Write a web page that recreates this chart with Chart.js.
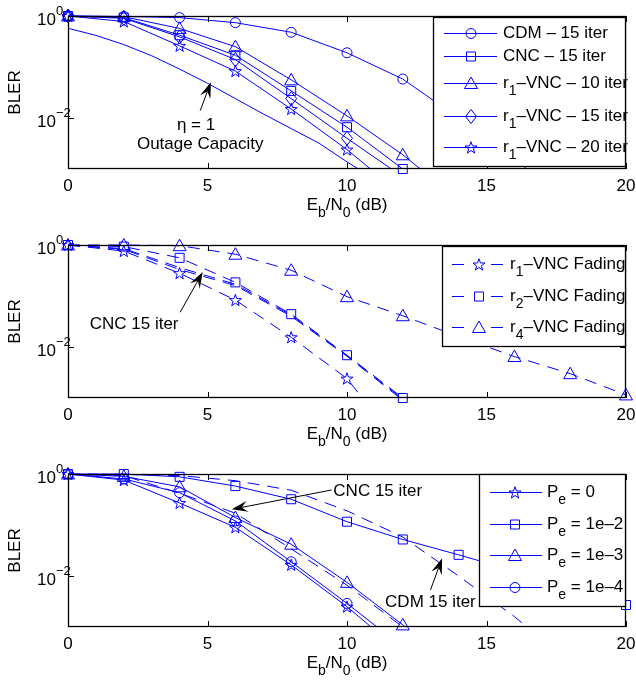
<!DOCTYPE html>
<html>
<head>
<meta charset="utf-8">
<script src="https://cdn.jsdelivr.net/npm/chart.js@4.4.0/dist/chart.umd.min.js"></script>
<style>
html, body { margin: 0; padding: 0; background: #fff; }
#wrap { position: relative; width: 636px; height: 680px; }
canvas { position: absolute; left: 0; }
</style>
</head>
<body>
<div id="wrap">
  <canvas id="top" width="636" height="222" style="top:0"></canvas>
  <canvas id="mid" width="636" height="230" style="top:222px"></canvas>
  <canvas id="bot" width="636" height="228" style="top:452px"></canvas>
</div>
<script>
// x values (Eb/N0 in dB)
const ebn0 = [0, 2, 4, 6, 8, 10, 12, 14, 16, 18, 20];
const outageX = [0, 1, 2, 3, 4, 5, 6, 7, 8, 9, 10, 11];

// top panel
const cdm15 = [1, 0.98, 0.93, 0.74, 0.48, 0.19, 0.058, 0.01, 0.0016, 0.0002];
const cnc15 = [1, 0.93, 0.42, 0.17, 0.034, 0.0066, 0.001];
const vnc10 = [1, 0.97, 0.57, 0.25, 0.056, 0.011, 0.0019, 0.00025];
const vnc15 = [1, 0.9, 0.39, 0.14, 0.024, 0.004, 0.0007];
const vnc20 = [1, 0.78, 0.26, 0.083, 0.015, 0.0024, 0.0003];
const outage = [0.575, 0.417, 0.275, 0.166, 0.091, 0.048, 0.024, 0.012, 0.0062, 0.0032, 0.00138, 0.00063];

// middle panel (fading)
const r1Fading = [1, 0.76, 0.28, 0.083, 0.0155, 0.0024, 0.0001];
const r2Fading = [1, 0.93, 0.56, 0.185, 0.044, 0.0069, 0.001];
const r4Fading = [1, 1.0, 0.97, 0.66, 0.32, 0.097, 0.041, 0.016, 0.0065, 0.003, 0.00115];
const cncFadingA = [1, 0.85, 0.36, 0.17, 0.042, 0.0068, 0.00095];
const cncFadingB = [1, 0.82, 0.33, 0.16, 0.04, 0.0066, 0.0009];

// bottom panel (relay error)
const pe0 = [1, 0.76, 0.27, 0.09, 0.0165, 0.0025, 0.0003];
const pe1e2 = [1, 1.0, 0.88, 0.58, 0.32, 0.116, 0.052, 0.026, 0.0126, 0.0059, 0.0027];
const pe1e3 = [1, 0.9, 0.56, 0.14, 0.042, 0.0075, 0.0011, 0.0001];
const pe1e4 = [1, 0.8, 0.43, 0.12, 0.019, 0.0029, 0.0004];

// ticks
const xTicks = [0, 5, 10, 15, 20];
const yTicks = [1e-2, 1];
const yTickExp = ['\u22122', '0'];

// legend labels
const legendTop = ['CDM \u2013 15 iter', 'CNC \u2013 15 iter', 'r_1\u2013VNC \u2013 10 iter', 'r_1\u2013VNC \u2013 15 iter', 'r_1\u2013VNC \u2013 20 iter'];
const legendMid = ['r_1\u2013VNC Fading', 'r_2\u2013VNC Fading', 'r_4\u2013VNC Fading'];
const legendBot = ['P_e = 0', 'P_e = 1e\u20132', 'P_e = 1e\u20133', 'P_e = 1e\u20134'];

const BLUE = '#0000ff';
const FONT = '"Liberation Sans", Arial, Helvetica, sans-serif';
const FS = 17;

// split "r_1..." into plain / sub / sup pieces
function pieces(str) {
  const out = [];
  const re = /([_^])(\{[^}]*\}|.)/g;
  let last = 0, m;
  while ((m = re.exec(str))) {
    if (m.index > last) out.push({ t: str.slice(last, m.index), m: '' });
    let t = m[2];
    if (t[0] === '{') t = t.slice(1, -1);
    out.push({ t: t, m: m[1] });
    last = re.lastIndex;
  }
  if (last < str.length) out.push({ t: str.slice(last), m: '' });
  return out;
}

// yc = centre of the capitals of the main text
function rich(ctx, str, x, yc, align) {
  const parts = pieces(str);
  let w = 0;
  parts.forEach(p => {
    p.s = p.m ? 14 : FS;
    ctx.font = p.s + 'px ' + FONT;
    p.w = ctx.measureText(p.t).width;
    w += p.w;
  });
  let cx = align === 'center' ? x - w / 2 : align === 'right' ? x - w : x;
  const base = yc + FS * 0.36;
  ctx.textAlign = 'left';
  ctx.textBaseline = 'alphabetic';
  ctx.fillStyle = '#000';
  parts.forEach(p => {
    ctx.font = p.s + 'px ' + FONT;
    const dy = p.m === '_' ? 7 : p.m === '^' ? -10 : 0;
    ctx.fillText(p.t, cx, base + dy);
    cx += p.w;
  });
}

function drawMarker(ctx, type, x, y) {
  ctx.beginPath();
  if (type === 'circle') {
    ctx.arc(x, y, 5, 0, Math.PI * 2);
  } else if (type === 'square') {
    ctx.rect(x - 4.5, y - 4.5, 9, 9);
  } else if (type === 'triangle') {
    ctx.moveTo(x, y - 6.5); ctx.lineTo(x + 6.5, y + 5); ctx.lineTo(x - 6.5, y + 5); ctx.closePath();
  } else if (type === 'diamond') {
    ctx.moveTo(x, y - 7); ctx.lineTo(x + 5.5, y); ctx.lineTo(x, y + 7); ctx.lineTo(x - 5.5, y); ctx.closePath();
  } else if (type === 'star') {
    for (let k = 0; k < 10; k++) {
      const r = k % 2 ? 2.5 : 6.3;
      const a = -Math.PI / 2 + k * Math.PI / 5;
      const px = x + r * Math.cos(a), py = y + 0.5 + r * Math.sin(a);
      if (k === 0) ctx.moveTo(px, py); else ctx.lineTo(px, py);
    }
    ctx.closePath();
  }
  ctx.setLineDash([]);
  ctx.strokeStyle = BLUE;
  ctx.lineWidth = 1;
  ctx.stroke();
}

function arrow(ctx, x1, y1, x2, y2) {
  const ang = Math.atan2(y2 - y1, x2 - x1);
  const L = 16, hw = 5.5, notch = 10;
  ctx.strokeStyle = '#000';
  ctx.fillStyle = '#000';
  ctx.lineWidth = 1;
  ctx.setLineDash([]);
  ctx.beginPath();
  ctx.moveTo(x1, y1);
  ctx.lineTo(x2 - Math.cos(ang) * notch, y2 - Math.sin(ang) * notch);
  ctx.stroke();
  ctx.save();
  ctx.translate(x2, y2);
  ctx.rotate(ang);
  ctx.beginPath();
  ctx.moveTo(0, 0); ctx.lineTo(-L, -hw); ctx.lineTo(-notch, 0); ctx.lineTo(-L, hw);
  ctx.closePath();
  ctx.fill();
  ctx.restore();
}

const matlab = {
  id: 'matlab',
  afterDatasetsDraw(chart, args, opts) {
    const ctx = chart.ctx, a = chart.chartArea;
    const xs = chart.scales.x, ys = chart.scales.y;
    ctx.save();

    // markers, not clipped at the box
    chart.data.datasets.forEach((ds, i) => {
      if (!ds.marker) return;
      chart.getDatasetMeta(i).data.forEach((pt, j) => {
        if (ds.data[j].y < ys.min * 0.999) return;
        drawMarker(ctx, ds.marker, pt.x, pt.y);
      });
    });

    // box and inward ticks
    ctx.strokeStyle = '#000';
    ctx.lineWidth = 1.3;
    ctx.setLineDash([]);
    ctx.strokeRect(a.left + 0.5, a.top + 0.5, a.right - a.left - 1, a.bottom - a.top - 1);
    ctx.lineWidth = 1;
    ctx.beginPath();
    xTicks.forEach(v => {
      const px = Math.round(xs.getPixelForValue(v)) + 0.5;
      ctx.moveTo(px, a.bottom); ctx.lineTo(px, a.bottom - 6);
      ctx.moveTo(px, a.top); ctx.lineTo(px, a.top + 6);
    });
    yTicks.forEach(v => {
      const py = Math.round(ys.getPixelForValue(v)) + 0.5;
      ctx.moveTo(a.left, py); ctx.lineTo(a.left + 6, py);
      ctx.moveTo(a.right, py); ctx.lineTo(a.right - 6, py);
    });
    ctx.stroke();

    // tick labels
    ctx.fillStyle = '#000';
    xTicks.forEach(v => rich(ctx, String(v), xs.getPixelForValue(v), a.bottom + 16, 'center'));
    yTicks.forEach((v, i) => {
      const py = ys.getPixelForValue(v);
      ctx.font = FS + 'px ' + FONT;
      ctx.textAlign = 'right';
      ctx.textBaseline = 'alphabetic';
      ctx.fillText('10', a.left - 12, py + 3 + FS * 0.36);
      ctx.font = '13px ' + FONT;
      ctx.textAlign = 'left';
      ctx.fillText(yTickExp[i], a.left - 12, py - 1.5);
    });

    // axis titles
    rich(ctx, 'E_b/N_0 (dB)', (a.left + a.right) / 2, a.bottom + 35, 'center');
    ctx.save();
    ctx.translate(14, (a.top + a.bottom) / 2);
    ctx.rotate(-Math.PI / 2);
    rich(ctx, 'BLER', 0, 0, 'center');
    ctx.restore();

    // annotations (data coordinates)
    (opts.notes || []).forEach(n => {
      if (n.arrow) {
        arrow(ctx, xs.getPixelForValue(n.arrow[0]), ys.getPixelForValue(n.arrow[1]),
          xs.getPixelForValue(n.arrow[2]), ys.getPixelForValue(n.arrow[3]));
      } else {
        rich(ctx, n.text, xs.getPixelForValue(n.x), ys.getPixelForValue(n.y), n.align || 'center');
      }
    });

    // legend
    const lg = opts.legend;
    if (lg) {
      const b = lg.box;
      ctx.fillStyle = '#fff';
      ctx.fillRect(b[0], b[1], b[2] - b[0], b[3] - b[1]);
      ctx.strokeStyle = '#000';
      ctx.lineWidth = 1.3;
      ctx.strokeRect(b[0] + 0.5, b[1] + 0.5, b[2] - b[0], b[3] - b[1]);
      lg.labels.forEach((lab, i) => {
        const ds = chart.data.datasets[i];
        const y = lg.rows[i] + 0.5;
        ctx.strokeStyle = BLUE;
        ctx.lineWidth = 1;
        ctx.setLineDash(ds.borderDash && ds.borderDash.length ? [12, 27] : []);
        ctx.beginPath();
        ctx.moveTo(lg.line[0], y);
        ctx.lineTo(lg.line[1], y);
        ctx.stroke();
        drawMarker(ctx, ds.marker, lg.mark, y);
        rich(ctx, lab, lg.text, lg.rows[i] - 1, 'left');
      });
    }
    ctx.restore();
  }
};

function series(xs, ys, marker, dashed) {
  return {
    data: ys.map((v, i) => ({ x: xs[i], y: v })),
    borderColor: BLUE,
    borderWidth: 1,
    borderDash: dashed ? [12, 8] : [],
    pointRadius: 0,
    tension: 0,
    fill: false,
    clip: { left: 2, top: 2, right: 2, bottom: 0 },
    marker: marker
  };
}

function panel(id, pad, datasets, legend, notes) {
  return new Chart(document.getElementById(id), {
    type: 'line',
    data: { datasets: datasets },
    options: {
      responsive: false,
      animation: false,
      devicePixelRatio: 1,
      events: [],
      layout: { padding: { left: 68, right: 10, top: pad[0], bottom: pad[1] } },
      scales: {
        x: { type: 'linear', min: 0, max: 20, display: false },
        y: { type: 'logarithmic', min: 1e-3, max: 1, display: false }
      },
      plugins: {
        legend: { display: false },
        tooltip: { enabled: false },
        matlab: { legend: legend, notes: notes }
      }
    },
    plugins: [matlab]
  });
}

panel('top', [16, 53], [
  series(ebn0, cdm15, 'circle'),
  series(ebn0, cnc15, 'square'),
  series(ebn0, vnc10, 'triangle'),
  series(ebn0, vnc15, 'diamond'),
  series(ebn0, vnc20, 'star'),
  series(outageX, outage, null)
], {
  box: [433, 17, 625, 166], rows: [33, 56, 83, 116, 147], line: [444, 497], mark: 471, text: 503,
  labels: legendTop
}, [
  { arrow: [4.74, 0.014, 5.12, 0.0505] },
  { text: '\u03b7 = 1', x: 4.59, y: 0.0077 },
  { text: 'Outage Capacity', x: 4.74, y: 0.0032 }
]);

panel('mid', [23, 54], [
  series(ebn0, r1Fading, 'star', true),
  series(ebn0, r2Fading, 'square', true),
  series(ebn0, r4Fading, 'triangle', true),
  series(ebn0, cncFadingA, null, true),
  series(ebn0, cncFadingB, null, true)
], {
  box: [442, 24, 625, 124], rows: [42, 74, 105], line: [452, 503], mark: 479, text: 510,
  labels: legendMid
}, [
  { arrow: [4.02, 0.048, 4.83, 0.295] },
  { text: 'CNC 15 iter', x: 2.37, y: 0.030 }
]);

panel('bot', [22, 53], [
  series(ebn0, pe0, 'star'),
  series(ebn0, pe1e2, 'square'),
  series(ebn0, pe1e3, 'triangle'),
  series(ebn0, pe1e4, 'circle'),
  series(ebn0, cdm15, null, true),
  series(ebn0, cnc15, null, true)
], {
  box: [479, 22, 625, 154], rows: [40, 72, 103, 135], line: [490, 542], mark: 515, text: 547,
  labels: legendBot
}, [
  { arrow: [9.45, 0.486, 5.87, 0.203] },
  { text: 'CNC 15 iter', x: 9.51, y: 0.486, align: 'left' },
  { arrow: [12.99, 0.0053, 13.41, 0.0222] },
  { text: 'CDM 15 iter', x: 12.99, y: 0.0032 }
]);
</script>
</body>
</html>
